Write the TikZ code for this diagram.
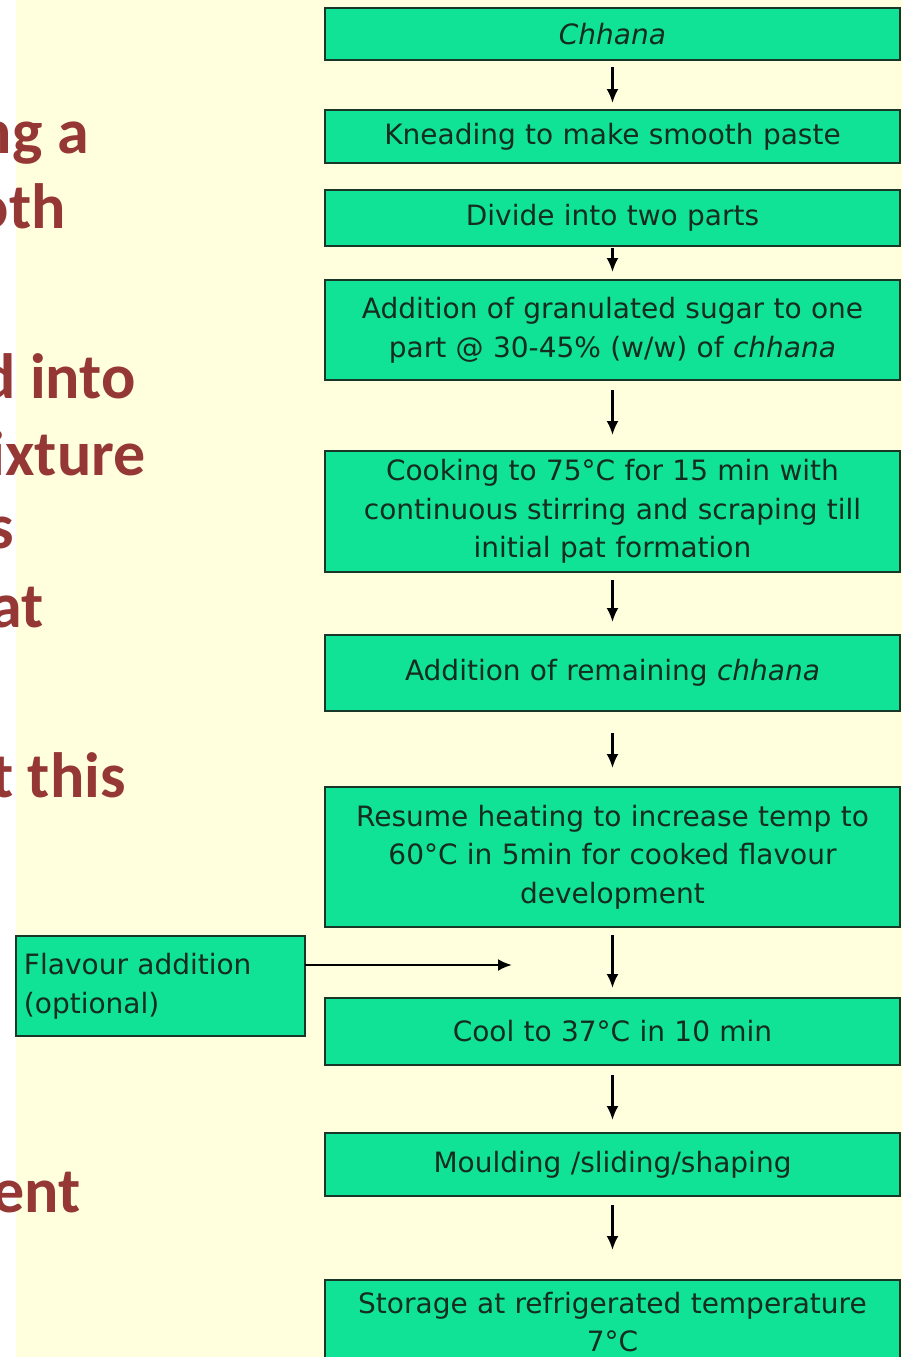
\documentclass[tikz,border=0pt]{standalone}
\usepackage{fontspec}
\setmainfont{DejaVu Sans}
\newfontfamily\slidefont{Carlito}
\usepackage{xcolor}
\usepackage{tikz}
\usetikzlibrary{arrows.meta}
\usetikzlibrary{positioning}

\definecolor{boxgreen}{RGB}{16,226,150}
\definecolor{boxline}{RGB}{25,55,40}
\definecolor{boxtext}{RGB}{20,45,30}
\definecolor{slidered}{RGB}{149,55,53}
\definecolor{slidebg}{RGB}{255,255,221}

\begin{document}
\begin{tikzpicture}
          [stepbox/.style={draw=boxline, fill=boxgreen, line width=1pt, text=boxtext,
             minimum width=287.5pt, text width=280pt, align=center, inner sep=0pt,
             outer sep=0pt, font=\fontsize{14}{19.3}\selectfont},
           slide/.style={anchor=base east, inner sep=0pt, text=slidered,
             font=\slidefont\bfseries\fontsize{32}{32}\selectfont},
           >={Latex[length=7pt,width=6pt]}]
          \useasboundingbox (0,0) rectangle (451pt,-678.5pt);
          \clip (0,0) rectangle (451pt,-678.5pt);
          \fill[white] (0,0) rectangle (451pt,-678.5pt);
          \fill[slidebg] (8pt,0) rectangle (451pt,-678.5pt);

          % cut-off slide text
          \node (s1) [slide] at (44.5pt,-76.5pt) {ng a};
          \node (s2) [slide] at (33pt,-114pt) {oth};
          \node (s3) [slide] at (68pt,-199pt) {d into};
          \node (s4) [slide] at (73pt,-237.5pt) {ixture};
          \node (s5) [slide] at (7pt,-274pt) {s};
          \node (s6) [slide] at (22pt,-313.5pt) {at};
          \node (s7) [slide] at (63pt,-398.5pt) {t this};
          \node (s8) [slide] at (40.5pt,-606pt) {ent};

          % flow chart
          \node (chhana) [stepbox, minimum height=26pt] at (306.25pt,-17pt) {\itshape Chhana};
          \node (knead) [stepbox, minimum height=26.5pt, below = 25pt of chhana] {Kneading to make smooth paste};
          \node (divide) [stepbox, minimum height=28pt, below = 13.5pt of knead] {Divide into two parts};
          \node (sugar) [stepbox, minimum height=50pt, below = 17pt of divide] {Addition of granulated sugar to one\\ part @ 30-45\% (w/w) of \textit{chhana}};
          \node (cook) [stepbox, minimum height=60.5pt, below = 35.5pt of sugar] {Cooking to 75°C for 15 min with\\ continuous stirring and scraping till\\ initial pat formation};
          \node (rest) [stepbox, minimum height=38pt, below = 31.5pt of cook] {Addition of remaining \textit{chhana}};
          \node (resume) [stepbox, minimum height=70pt, below = 38pt of rest] {Resume heating to increase temp to\\ 60°C in 5min for cooked flavour\\ development};
          \node (cool) [stepbox, minimum height=33.5pt, below = 35.5pt of resume] {Cool to 37°C in 10 min};
          \node (mould) [stepbox, minimum height=31.5pt, below = 34pt of cool] {Moulding /sliding/shaping};
          \node (store) [stepbox, minimum height=42pt, below = 42pt of mould] {Storage at refrigerated temperature\\ 7°C};

          \node (flav) [stepbox, minimum width=144.5pt, text width=136.5pt, align=left,
             minimum height=50pt] at (80.25pt,-493pt) {Flavour addition\\ (optional)};
          \coordinate (flavtip) at (256pt,-482.5pt);

          \draw[->, line width=1.2pt, shorten <=3.5pt, shorten >=3.5pt] (chhana) -- (knead);
          \draw[->, line width=1.2pt, shorten <=1pt, shorten >=4pt] (divide) -- (sugar);
          \draw[->, line width=1.2pt, shorten <=5pt, shorten >=8pt] (sugar) -- (cook);
          \draw[->, line width=1.2pt, shorten <=4pt, shorten >=6.5pt] (cook) -- (rest);
          \draw[->, line width=1.2pt, shorten <=11pt, shorten >=9.5pt] (rest) -- (resume);
          \draw[->, line width=1.2pt, shorten <=4pt, shorten >=5pt] (resume) -- (cool);
          \draw[->, line width=1.2pt, shorten <=5pt, shorten >=6.5pt] (cool) -- (mould);
          \draw[->, line width=1.2pt, shorten <=4.5pt, shorten >=15pt] (mould) -- (store);
          \draw[->, line width=1.3pt] (flav.east |- flavtip) -- (flavtip);
        \end{tikzpicture}
\end{document}
